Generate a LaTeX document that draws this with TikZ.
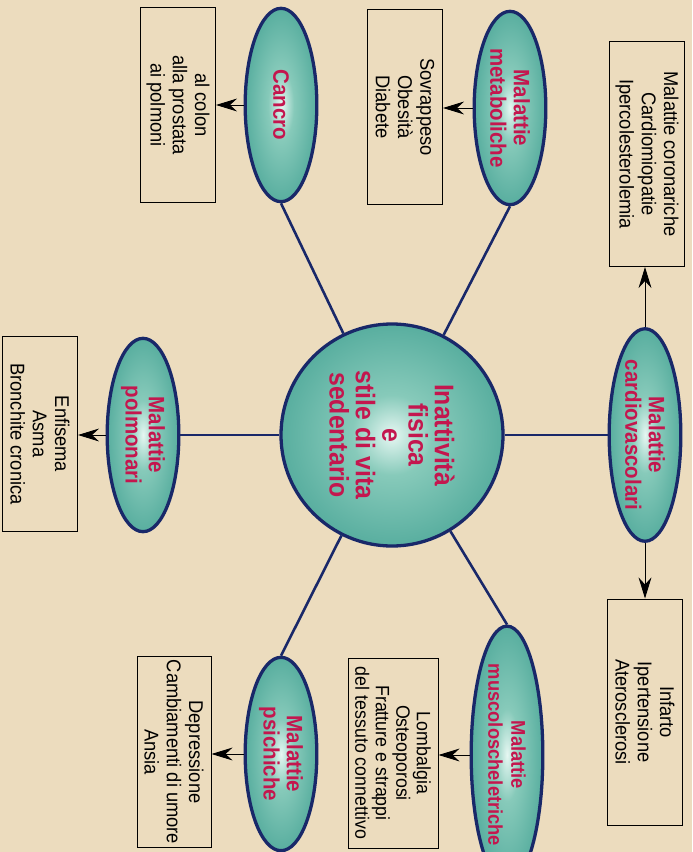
\documentclass[tikz,border=0pt]{standalone}
\usepackage{fontspec}
\usepackage{tikz}
\usetikzlibrary{shapes.geometric,arrows.meta}
\setmainfont{Liberation Sans}[FakeStretch=0.92]
\definecolor{paper}{RGB}{236,220,190}
\definecolor{rim}{RGB}{25,40,105}
\definecolor{wine}{RGB}{196,22,78}
\definecolor{glowin}{RGB}{230,247,242}
\definecolor{glowmid}{RGB}{135,202,186}
\definecolor{glowout}{RGB}{45,148,134}
\pgfdeclareradialshading{glow}{\pgfpoint{0bp}{0bp}}{color(0bp)=(glowin); color(9bp)=(glowmid); color(40bp)=(glowout); color(50bp)=(glowout)}

\begin{document}
\begin{tikzpicture}[x=0.03cm, y=-0.03cm,
	 disease/.style={ellipse, draw=rim, line width=2.8pt, shading=glow, rotate=-90,
	   minimum width=5.8cm, minimum height=2.15cm, inner sep=0pt, align=center,
	   text=wine, font=\fontsize{19}{20}\selectfont\bfseries},
	 hubdisc/.style={circle, draw=rim, line width=2.8pt, shading=glow, rotate=-90,
	   minimum size=6.66cm, inner sep=0pt, align=center,
	   text=wine, font=\fontsize{23}{22.5}\selectfont\bfseries},
	 listbox/.style={draw, line width=0.8pt, rotate=-90, minimum width=5.85cm,
	   minimum height=2.25cm, inner sep=0pt, align=center, font=\fontsize{17}{19}\selectfont},
	 spoke/.style={draw=rim, line width=2.2pt},
	 pointer/.style={-{Stealth[length=18pt, width=11pt, inset=6pt]}, line width=0.8pt}]
	    \useasboundingbox (0,0) rectangle (692,852);
	    \fill[paper] (0,0) rectangle (692,852);
	    \node (core) at (392,435) [hubdisc] {Inattività\\fisica\\e\\stile di vita\\sedentario};
	    \node (cardio) at (645,435) [disease] {Malattie\\cardiovascolari};
	    \node (meta) at (510,108) [disease] {Malattie\\metaboliche};
	    \node (cancro) at (281,105) [disease] {Cancro};
	    \node (polmo) at (143,435) [disease] {Malattie\\polmonari};
	    \node (musco) at (507,755) [disease, font=\fontsize{17}{19.5}\selectfont\bfseries] {Malattie\\muscoloscheletriche};
	    \node (psiche) at (281,754) [disease] {Malattie\\psichiche};
	    \node (coro) at (647,154) [listbox, minimum width=6.75cm] {Malattie coronariche\\Cardiomiopatie\\Ipercolesterolemia};
	    \node (infa) at (645,712) [listbox, minimum width=6.78cm] {Infarto\\Ipertensione\\Aterosclerosi};
	    \node (sovr) at (405,107) [listbox] {Sovrappeso\\Obesità\\Diabete};
	    \node (colon) at (178,105) [listbox] {al colon\\alla prostata\\ai polmoni};
	    \node (enfi) at (40,434) [listbox] {Enfisema\\Asma\\Bronchite cronica};
	    \node (lomb) at (393,753) [listbox, minimum width=5.7cm, minimum height=2.7cm, font=\fontsize{16.5}{17.5}\selectfont] {Lombalgia\\Osteoporosi\\Fratture e strappi\\del tessuto connettivo};
	    \node (depr) at (174,752) [listbox, minimum width=5.73cm, minimum height=2.22cm] {Depressione\\Cambiamenti di umore\\Ansia};
	    \draw[spoke] (core) -- (cardio);
	    \draw[spoke] (core) -- (polmo);
	    \draw[spoke] (core) -- (meta.east);
	    \draw[spoke] (core) -- (cancro.east);
	    \draw[spoke] (core) -- (musco.west);
	    \draw[spoke] (core) -- (psiche.west);
	    \draw[pointer] (cardio.west) -- (cardio.west |- coro.east);
	    \draw[pointer] (cardio.east) -- (cardio.east |- infa.west);
	    \draw[pointer] (meta.south) -- (meta.south -| sovr.north);
	    \draw[pointer] (cancro.south) -- (cancro.south -| colon.north);
	    \draw[pointer] (polmo.south) -- (polmo.south -| enfi.north);
	    \draw[pointer] (musco.south) -- (musco.south -| lomb.north);
	    \draw[pointer] (psiche.south) -- (psiche.south -| depr.north);
\end{tikzpicture}
\end{document}
